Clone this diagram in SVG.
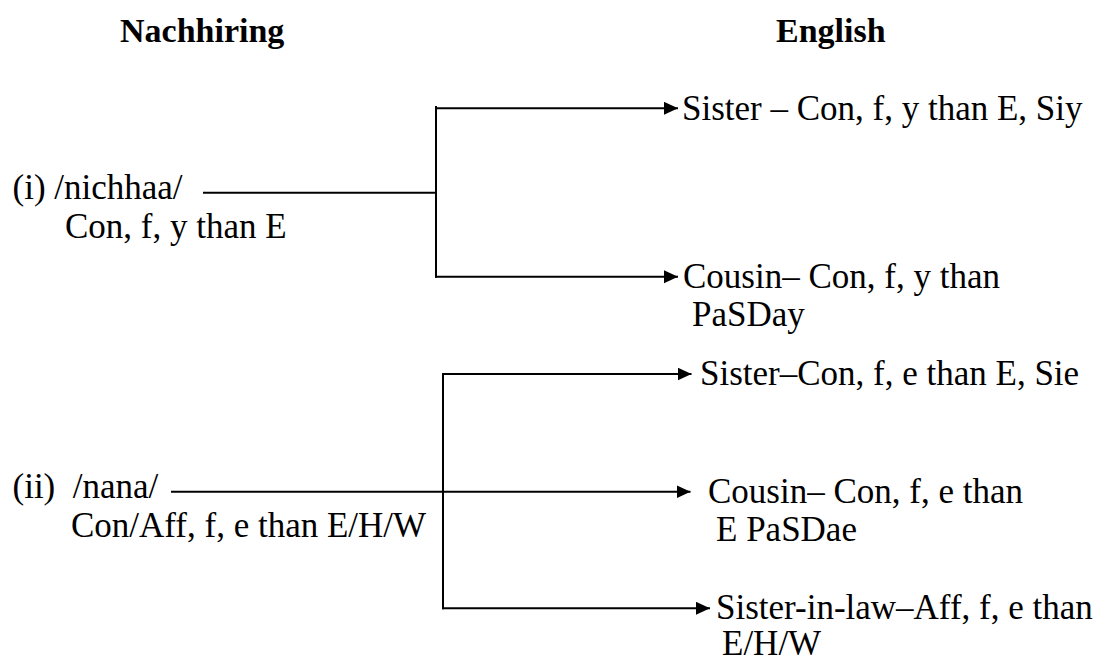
<svg xmlns="http://www.w3.org/2000/svg" width="1103" height="662" viewBox="0 0 1103 662">
  <style>
    text { font-family: "Liberation Serif", "Times New Roman", serif; font-size: 35px; fill: #000; }
    .head { font-weight: bold; font-size: 34px; }
    .wire { fill: none; stroke: #000; stroke-width: 2; }
  </style>
  <defs>
    <marker id="arrow" markerUnits="userSpaceOnUse" markerWidth="15" markerHeight="14" refX="14" refY="6.5" orient="auto">
      <path d="M0,0 L14,6.5 L0,13 Z" fill="#000"/>
    </marker>
  </defs>

  <rect width="1103" height="662" fill="#fff"/>

  <!-- column headings -->
  <g id="heading-nachhiring"><text class="head" x="120" y="42">Nachhiring</text></g>
  <g id="heading-english"><text class="head" x="776" y="42">English</text></g>

  <!-- source terms -->
  <g id="term-nichhaa">
    <text x="12.5" y="199">(i) /nichhaa/</text>
    <text x="65" y="238">Con, f, y than E</text>
  </g>
  <g id="term-nana">
    <text x="12.5" y="498" xml:space="preserve">(ii)  /nana/</text>
    <text x="71" y="537">Con/Aff, f, e than E/H/W</text>
  </g>

  <!-- English glosses -->
  <g id="gloss-sister-y">
    <text x="682" y="120">Sister – Con, f, y than E, Siy</text>
  </g>
  <g id="gloss-cousin-y">
    <text x="683" y="288">Cousin– Con, f, y than</text>
    <text x="692" y="326">PaSDay</text>
  </g>
  <g id="gloss-sister-e">
    <text x="700" y="385">Sister–Con, f, e than E, Sie</text>
  </g>
  <g id="gloss-cousin-e">
    <text x="708" y="503">Cousin– Con, f, e than</text>
    <text x="716" y="541">E PaSDae</text>
  </g>
  <g id="gloss-sister-in-law">
    <text x="716" y="619">Sister-in-law–Aff, f, e than</text>
    <text x="722" y="655">E/H/W</text>
  </g>

  <!-- connectors -->
  <g id="connectors">
    <line class="wire" x1="203" y1="192.7" x2="436" y2="192.7"/>
    <line class="wire" x1="436" y1="106" x2="436" y2="277.7"/>
    <line class="wire" x1="435" y1="108.3" x2="678" y2="108.3" marker-end="url(#arrow)"/>
    <line class="wire" x1="435" y1="276.7" x2="678" y2="276.7" marker-end="url(#arrow)"/>

    <line class="wire" x1="443" y1="373" x2="443" y2="609.3"/>
    <line class="wire" x1="442" y1="374" x2="691.5" y2="374" marker-end="url(#arrow)"/>
    <line class="wire" x1="171" y1="491.7" x2="690.5" y2="491.7" marker-end="url(#arrow)"/>
    <line class="wire" x1="442" y1="608.3" x2="710" y2="608.3" marker-end="url(#arrow)"/>
  </g>
</svg>
